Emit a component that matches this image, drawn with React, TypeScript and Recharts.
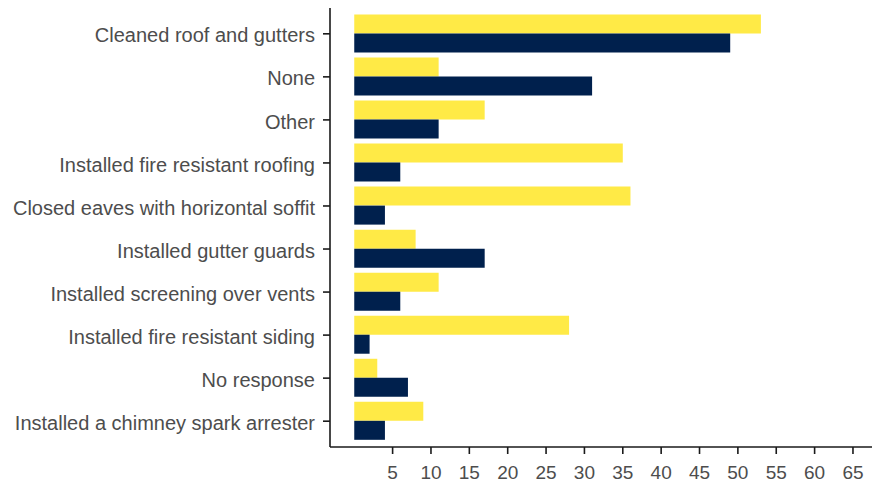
import React from "react";
import { BarChart, Bar, XAxis, YAxis } from "recharts";

const categories = [
  "Cleaned roof and gutters",
  "None",
  "Other",
  "Installed fire resistant roofing",
  "Closed eaves with horizontal soffit",
  "Installed gutter guards",
  "Installed screening over vents",
  "Installed fire resistant siding",
  "No response",
  "Installed a chimney spark arrester",
];
const yellowValues = [53, 11, 17, 35, 36, 8, 11, 28, 3, 9];
const navyValues = [49, 31, 11, 6, 4, 17, 6, 2, 7, 4];
const xTicks = [5, 10, 15, 20, 25, 30, 35, 40, 45, 50, 55, 60, 65];

const data = categories.map((c, i) => ({
  name: c,
  yellow: yellowValues[i],
  navy: navyValues[i],
}));

const FONT = "'Liberation Sans', Arial, sans-serif";
const TEXT = "#4d4d4d";
const AXIS = "#1a1a1a";

const YTick = (props: any) => {
  const { x, y, payload } = props;
  return (
    <text x={x} y={y} dy={8.6} textAnchor="end" fill={TEXT} fontSize={20} fontFamily={FONT}>
      {payload.value}
    </text>
  );
};

export default function App() {
  return (
    <div style={{ position: "absolute", left: 0, top: 0, width: 872, height: 486, background: "#fff" }}>
      <BarChart
        width={872}
        height={486}
        data={data}
        layout="vertical"
        margin={{ top: 8, right: 0, bottom: 0, left: 0 }}
        barCategoryGap="5%"
        barGap={0}
      >
        <XAxis
          type="number"
          domain={[-3.16, 67.48]}
          allowDataOverflow
          ticks={xTicks}
          interval={0}
          height={39}
          tickSize={7}
          tickMargin={12}
          axisLine={{ stroke: AXIS, strokeWidth: 1.6 }}
          tickLine={{ stroke: AXIS, strokeWidth: 1.6 }}
          tick={{ fill: TEXT, fontSize: 19, fontFamily: FONT }}
        />
        <YAxis
          type="category"
          dataKey="name"
          width={330}
          padding={{ top: 4.3, bottom: 4.3 }}
          interval={0}
          tickSize={7}
          tickMargin={8}
          axisLine={{ stroke: AXIS, strokeWidth: 1.6 }}
          tickLine={{ stroke: AXIS, strokeWidth: 1.6 }}
          tick={<YTick />}
        />
        <Bar dataKey="yellow" fill="#FFEA46" isAnimationActive={false} />
        <Bar dataKey="navy" fill="#00204D" isAnimationActive={false} />
      </BarChart>
    </div>
  );
}
